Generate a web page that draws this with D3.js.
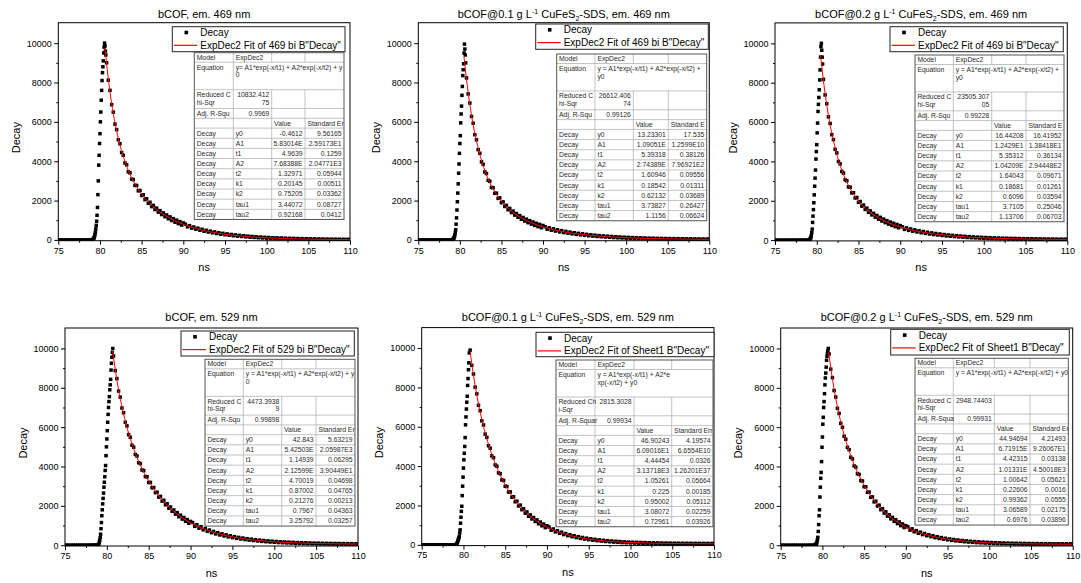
<!DOCTYPE html>
<html><head><meta charset="utf-8">
<script src="https://cdn.jsdelivr.net/npm/d3@7"></script>
<style>
body{margin:0;background:#fff}
svg{display:block}
text{font-family:"Liberation Sans",Arial,Helvetica,sans-serif}
</style>
</head><body>
<svg id="chart" width="1081" height="583"></svg>
<script>
// ---------------- DATA ----------------
const timesBase = [75,75.25,75.5,75.75,76,76.25,76.5,76.75,77,77.25,77.5,77.75,78,78.25,78.5,78.75];
const timesRise = [79,79.05,79.1,79.15,79.2,79.25,79.3,79.35,79.4,79.45,79.5,79.55,79.6,79.65,79.7,79.75,79.8,79.85,79.9,79.95,80,80.05,80.1,80.15,80.2,80.25,80.3,80.35,80.4,80.45,80.5,80.55,80.6,80.65,80.7];
const timesDecay = [80.8,81,81.2,81.4,81.6,81.8,82,82.2,82.4,82.6,82.8,83,83.2,83.4,83.6,83.8,84,84.2,84.4,84.6,84.8,85,85.2,85.4,85.6,85.8,86,86.2,86.4,86.6,86.8,87,87.2,87.4,87.6,87.8,88,88.2,88.4,88.6,88.8,89,89.2,89.4,89.6,89.8,90];
const timesTail = [90.25,90.5,90.75,91,91.25,91.5,91.75,92,92.25,92.5,92.75,93,93.25,93.5,93.75,94,94.25,94.5,94.75,95,95.25,95.5,95.75,96,96.25,96.5,96.75,97,97.25,97.5,97.75,98,98.25,98.5,98.75,99,99.25,99.5,99.75,100,100.25,100.5,100.75,101,101.25,101.5,101.75,102,102.25,102.5,102.75,103,103.25,103.5,103.75,104,104.25,104.5,104.75,105,105.25,105.5,105.75,106,106.25,106.5,106.75,107,107.25,107.5,107.75,108,108.25,108.5,108.75,109,109.25,109.5,109.75,110];
const times = timesBase.concat(timesRise, timesDecay, timesTail);

const decay469bCOF = [
0,2,1,0,3,1,0,2,1,0,2,3,1,2,4,3,
0,5,10,20,40,70,120,190,280,400,560,740,950,1250,1650,2300,3000,3800,4300,4900,5400,6000,6500,7100,7600,8100,8500,8800,9100,9500,9800,10000,9850,9600,9400,
9003,8120,7601,6875,6493,5885,5606,5089,4889,4442,4303,3909,3817,3464,3409,3090,3064,2771,2769,2496,2513,2257,2288,2046,2091,1860,1914,1693,1757,1545,1616,1411,1489,1289,1372,1179,1267,1078,1172,987,1083,903,1003,826,930,755,862,
800,665,725,600,655,545,595,490,540,440,490,400,445,360,405,325,368,292,335,262,305,238,278,212,255,192,232,173,212,156,192,140,176,126,160,112,146,100,134,88,124,78,114,70,104,62,96,55,88,48,82,42,76,37,70,32,64,28,60,24,56,20,52,17,48,14,45,12,42,10,40,8,38,6,36,5,34,4,32,3];
const decay469Cu01 = [
1,0,2,3,0,1,2,0,3,1,2,0,1,3,2,4,
0,5,10,20,40,70,110,170,260,380,520,800,1120,1520,1940,2380,2850,3390,3860,4400,4900,5300,5950,6400,6800,7350,7800,8350,8650,8950,9500,9950,9700,9400,9000,
8231,7420,6957,6276,5928,5347,5090,4590,4404,3968,3840,3455,3372,3027,2980,2669,2652,2367,2374,2111,2136,1890,1932,1700,1755,1535,1600,1390,1464,1263,1344,1150,1237,1048,1142,958,1056,877,978,803,908,736,844,675,787,619,733,
670,542,614,493,562,450,515,409,472,372,433,339,397,309,365,281,335,256,308,233,283,212,260,194,240,176,221,160,204,146,189,133,174,120,161,110,150,100,139,90,130,83,120,74,113,68,105,62,98,55,92,51,86,46,82,42,76,38,72,34,69,31,65,28,62,25,60,23,56,21,54,19,52,17,50,15,48,14,47,13];
const decay469Cu02 = [
2,1,0,3,2,0,1,4,2,1,0,2,3,1,2,3,
0,5,15,30,55,90,150,240,380,560,900,1220,1550,1900,2300,2740,3150,3560,4120,4500,4850,5450,5950,6540,6900,7250,7640,8140,8650,9300,9830,10000,9650,9300,8950,
8170,7380,6934,6266,5929,5358,5108,4614,4432,3999,3873,3489,3407,3063,3017,2706,2687,2401,2407,2142,2167,1920,1961,1727,1781,1560,1623,1412,1485,1282,1363,1167,1254,1064,1157,971,1069,889,990,814,918,745,854,684,795,627,740,
677,546,620,497,567,453,520,413,476,376,437,342,401,312,368,284,337,259,311,236,285,214,263,196,242,178,224,162,207,148,191,134,177,122,163,112,152,102,141,93,132,85,123,77,115,70,107,64,101,58,95,53,89,48,84,44,80,40,75,37,71,33,68,30,65,27,62,25,60,23,56,21,54,19,52,17,51,16,49,14];
const decay529bCOF = [
3,5,2,4,6,3,5,8,4,6,9,7,10,12,15,20,
30,80,160,260,380,560,840,1150,1500,1800,2100,2380,2650,2950,3200,3480,3800,4050,4550,5000,5400,5820,6250,6650,7000,7300,7550,7900,8150,8430,8900,9250,9550,9800,10000,
9617,8874,8469,7835,7525,6973,6735,6246,6063,5623,5485,5085,4981,4613,4538,4196,4144,3824,3792,3490,3476,3189,3190,2918,2931,2671,2696,2446,2481,2241,2285,2054,2106,1883,1942,1725,1791,1582,1654,1450,1528,1328,1411,1217,1305,1115,1208,
1150,960,1040,867,941,782,853,706,772,637,701,575,636,520,578,470,525,425,478,385,436,349,398,316,365,287,333,261,306,237,281,215,259,196,239,179,221,164,204,149,189,137,177,126,165,116,155,107,145,98,136,91,128,85,122,79,116,73,110,69,105,64,100,60,96,57,93,53,90,51,86,49,83,46,81,44,79,42,77,40];
const decay529Cu01 = [
0,2,1,3,0,2,1,0,3,2,1,4,2,0,3,1,
0,5,10,25,50,90,150,220,290,350,430,600,760,1100,1400,1700,1960,2500,2980,3440,3900,4320,4650,5000,5450,6100,6500,6900,7250,7550,8100,8450,8900,9250,9750,
9897,9120,8681,8014,7672,7089,6820,6301,6091,5625,5461,5036,4909,4519,4425,4063,3995,3659,3613,3297,3271,2974,2965,2683,2689,2422,2441,2187,2218,1975,2017,1783,1832,1609,1669,1453,1521,1313,1388,1186,1267,1071,1158,967,1058,873,969,
905,745,806,660,718,585,642,521,574,463,514,412,461,367,414,327,373,292,337,262,305,234,276,210,252,189,230,170,210,154,194,139,178,127,165,115,153,105,142,96,134,89,125,81,118,75,112,70,106,65,101,61,97,57,93,54,90,51,86,49,84,47,82,45,80,43,78,41,76,40,75,39,74,37,73,36,72,35,71,34];
const decay529Cu02 = [
1,3,0,2,1,0,4,2,1,3,0,2,1,3,2,5,
0,5,15,25,40,60,90,170,280,400,700,1050,1500,1800,2450,2950,3400,3700,4250,4980,5500,6150,6500,7000,7300,7700,8150,8500,8750,9050,9400,9600,9750,9880,10000,
9722,8949,8518,7861,7530,6958,6700,6194,5994,5539,5385,4970,4853,4471,4385,4030,3968,3638,3598,3287,3265,2973,2967,2689,2698,2434,2455,2203,2236,1994,2037,1806,1858,1635,1696,1480,1547,1339,1414,1212,1293,1097,1184,993,1084,898,994,
931,767,831,682,743,607,665,541,596,482,534,430,480,383,432,342,390,306,352,275,318,246,289,221,263,199,240,179,220,162,202,146,186,133,171,121,159,110,148,101,138,92,129,85,122,78,115,72,108,68,103,63,99,59,95,55,91,52,87,50,84,47,82,45,80,43,78,41,76,39,74,38,73,36,72,35,71,34,70,33];

// fitted ExpDec2 curves
const fitTimesTail = [81,81.25,81.5,82,82.5,83,83.5,84,85,86,87,88,90,92,94,96,98,100,103,106,110];
const fitT469bCOF = [80.6,80.75].concat(fitTimesTail);
const fitV469bCOF = [9770,9135,8190,7380,6677,5536,4663,3979,3435,2994,2327,1844,1481,1197,792,527,352,235,157,105,57,31,14];
const fitT469Cu01 = [80.5,80.75].concat(fitTimesTail);
const fitV469Cu01 = [9310,8340,7490,6747,6096,5020,4183,3525,3003,2582,1960,1530,1220,986,663,451,315,222,157,112,70,46,29];
const fitT469Cu02 = [80.45,80.75].concat(fitTimesTail);
const fitV469Cu02 = [9416,8273,7450,6727,6092,5038,4211,3559,3038,2617,1990,1553,1237,999,670,455,318,224,159,115,72,48,31];
const fitT529bCOF = [80.7,80.75].concat(fitTimesTail);
const fitV529bCOF = [9873,9708,8944,8270,7673,6665,5840,5155,4572,4074,3259,2626,2124,1721,1138,759,510,348,242,173,112,79,58];
const fitT529Cu01 = [80.8].concat(fitTimesTail);
const fitV529Cu01 = [9827,9190,8476,7837,6750,5854,5106,4469,3925,3044,2371,1853,1451,899,564,360,237,162,117,80,63,52];
const fitT529Cu02 = [80.75].concat(fitTimesTail);
const fitV529Cu02 = [9821,9019,8315,7690,6630,5765,5040,4427,3898,3043,2385,1876,1477,924,585,376,248,170,122,82,63,51];

// axis ticks
const xMajorTicks = [75,80,85,90,95,100,105,110];
const xMinorTicks = [77.5,82.5,87.5,92.5,97.5,102.5,107.5];
const yMajorTicks = [0,2000,4000,6000,8000,10000];
const yMinorTicks = [1000,3000,5000,7000,9000];

// titles: [text, shift] shift 1 = superscript, -1 = subscript
const title469bCOF = [["bCOF, em. 469 nm",0]];
const title469Cu01 = [["bCOF@0.1 g L",0],["-1",1],[" CuFeS",0],["2",-1],["-SDS, em. 469 nm",0]];
const title469Cu02 = [["bCOF@0.2 g L",0],["-1",1],[" CuFeS",0],["2",-1],["-SDS, em. 469 nm",0]];
const title529bCOF = [["bCOF, em. 529 nm",0]];
const title529Cu01 = [["bCOF@0.1 g L",0],["-1",1],[" CuFeS",0],["2",-1],["-SDS, em. 529 nm",0]];
const title529Cu02 = [["bCOF@0.2 g L",0],["-1",1],[" CuFeS",0],["2",-1],["-SDS, em. 529 nm",0]];

const legendFitLabels = ['ExpDec2 Fit of 469 bi B"Decay"','ExpDec2 Fit of 469 bi B"Decay"','ExpDec2 Fit of 469 bi B"Decay"','ExpDec2 Fit of 529 bi B"Decay"','ExpDec2 Fit of Sheet1 B"Decay"','ExpDec2 Fit of Sheet1 B"Decay"'];

// fit report tables
const paramNames = ["y0","A1","t1","A2","t2","k1","k2","tau1","tau2"];
const eqLines = [
 ["y= A1*exp(-x/t1) + A2*exp(-x/t2) + y","0"],
 ["y = A1*exp(-x/t1) + A2*exp(-x/t2) +","y0"],
 ["y = A1*exp(-x/t1) + A2*exp(-x/t2) +","y0"],
 ["y = A1*exp(-x/t1) + A2*exp(-x/t2) + y","0"],
 ["y = A1*exp(-x/t1) + A2*e","xp(-x/t2) + y0"],
 ["y = A1*exp(-x/t1) + A2*exp(-x/t2) + y0",""]];
const chiLabels = [["Reduced C","hi-Sqr"],["Reduced C","hi-Sqr"],["Reduced C","hi-Sqr"],["Reduced C","hi-Sqr"],["Reduced Ch","i-Sqr"],["Reduced C","hi-Sqr"]];
const chiValues = [["10832.412","75"],["26612.406","74"],["23505.307","05"],["4473.3938","9"],["2815.3028",""],["2948.74403",""]];
const adjLabels = ["Adj. R-Squ","Adj. R-Squ","Adj. R-Squ","Adj. R-Squ","Adj. R-Squar","Adj. R-Squa"];
const adjValues = ["0.9969","0.99126","0.99228","0.99898","0.99934","0.99931"];
const errHeaders = ["Standard Er","Standard E","Standard E","Standard Er","Standard Err","Standard Er"];
const values469bCOF = ["-0.4612","5.83014E","4.9639","7.68388E","1.32971","0.20145","0.75205","3.44072","0.92168"];
const errors469bCOF = ["9.56165","2.59173E1","0.1259","2.04771E3","0.05944","0.00511","0.03362","0.08727","0.0412"];
const values469Cu01 = ["13.23301","1.09051E","5.39318","2.74389E","1.60946","0.18542","0.62132","3.73827","1.1156"];
const errors469Cu01 = ["17.535","1.2599E10","0.38126","7.96921E2","0.09556","0.01311","0.03689","0.26427","0.06624"];
const values469Cu02 = ["16.44208","1.2429E1","5.35312","1.04209E","1.64043","0.18681","0.6096","3.7105","1.13706"];
const errors469Cu02 = ["16.41952","1.38418E1","0.36134","2.94448E2","0.09671","0.01261","0.03594","0.25046","0.06703"];
const values529bCOF = ["42.843","5.42503E","1.14939","2.12599E","4.70019","0.87002","0.21276","0.7967","3.25792"];
const errors529bCOF = ["5.63219","2.05987E3","0.06295","3.90449E1","0.04698","0.04765","0.00213","0.04363","0.03257"];
const values529Cu01 = ["46.90243","6.09016E1","4.44454","3.13718E3","1.05261","0.225","0.95002","3.08072","0.72961"];
const errors529Cu01 = ["4.19574","6.6554E10","0.0326","1.26201E37","0.05664","0.00185","0.05112","0.02259","0.03926"];
const values529Cu02 = ["44.94694","6.71915E","4.42315","1.01331E","1.00642","0.22606","0.99362","3.06589","0.6976"];
const errors529Cu02 = ["4.21493","9.26067E1","0.03138","4.50018E3","0.05621","0.0016","0.0555","0.02175","0.03896"];

// ---------------- LAYOUT ----------------
const layouts = [
 {x0:58.3, x1:350,   y0:22.7,  y1:240.7, leg:[172.3,26.7,172.7,25],  tab:[194.3,52.7], cols:[39,38.4,33.3,39]},
 {x0:418.3,x1:709.3, y0:22.7,  y1:240.7, leg:[535.7,24,172.6,25.3],  tab:[556.7,54],   cols:[38.3,38.3,35,38.4]},
 {x0:775,  x1:1067.3,y0:22.9,  y1:240.9, leg:[890,26.7,173.3,25],    tab:[915,55],     cols:[38.3,38.4,34.3,38]},
 {x0:65,   x1:358,   y0:328,   y1:546,   leg:[181,331,173.3,25],     tab:[205,359.3],  cols:[38.3,38.4,34.3,39]},
 {x0:421.7,x1:714,   y0:327.6, y1:545.6, leg:[536,332.3,178,24.4],   tab:[556,360],    cols:[39,39,37.7,41.3]},
 {x0:780.7,x1:1072.7,y0:328,   y1:546,   leg:[890.7,329.3,178.6,25.7],tab:[915,358.3], cols:[38.3,41,35.7,38.3]}
];
const headRowH = [9.5,27.5,18.8,9.8,9.8];
const dataRowH = 10.15;

const panels = [
 {title:title469bCOF, decay:decay469bCOF, fitT:fitT469bCOF, fitV:fitV469bCOF, vals:values469bCOF, errs:errors469bCOF},
 {title:title469Cu01, decay:decay469Cu01, fitT:fitT469Cu01, fitV:fitV469Cu01, vals:values469Cu01, errs:errors469Cu01},
 {title:title469Cu02, decay:decay469Cu02, fitT:fitT469Cu02, fitV:fitV469Cu02, vals:values469Cu02, errs:errors469Cu02},
 {title:title529bCOF, decay:decay529bCOF, fitT:fitT529bCOF, fitV:fitV529bCOF, vals:values529bCOF, errs:errors529bCOF},
 {title:title529Cu01, decay:decay529Cu01, fitT:fitT529Cu01, fitV:fitV529Cu01, vals:values529Cu01, errs:errors529Cu01},
 {title:title529Cu02, decay:decay529Cu02, fitT:fitT529Cu02, fitV:fitV529Cu02, vals:values529Cu02, errs:errors529Cu02}
];

const svg = d3.select("#chart");
const defs = svg.append("defs");
const TXT = "#000";

function styleAxis(sel, size){
  sel.attr("font-family",'"Liberation Sans",Arial,sans-serif').attr("font-size",size);
  sel.selectAll("text").attr("fill",TXT);
  sel.selectAll("line").attr("stroke","#000");
  sel.select(".domain").remove();
}

function drawTable(g, i, L, p){
  const cols = L.cols;
  const cx = [0]; cols.forEach(c => cx.push(cx[cx.length-1] + c));
  const W = cx[cx.length-1];
  const rh = headRowH.concat(paramNames.map(() => dataRowH));
  const ry = [0]; rh.forEach(h => ry.push(ry[ry.length-1] + h));
  const H = ry[ry.length-1];
  defs.append("clipPath").attr("id","tclip"+i).append("rect").attr("width",W).attr("height",H);
  const t = g.append("g").attr("transform",`translate(${L.tab[0]},${L.tab[1]})`);
  t.append("rect").attr("width",W).attr("height",H).attr("fill","#fff");
  const lines = t.append("g").attr("stroke","#b4b4b4").attr("stroke-width",0.8);
  ry.slice(1,-1).forEach(yy => lines.append("line").attr("x1",0).attr("x2",W).attr("y1",yy).attr("y2",yy));
  lines.append("line").attr("x1",cx[1]).attr("x2",cx[1]).attr("y1",0).attr("y2",H);
  [cx[2],cx[3]].forEach(xx => {
    lines.append("line").attr("x1",xx).attr("x2",xx).attr("y1",0).attr("y2",ry[1]);
    lines.append("line").attr("x1",xx).attr("x2",xx).attr("y1",ry[2]).attr("y2",H);
  });
  t.append("rect").attr("width",W).attr("height",H).attr("fill","none").attr("stroke","#555").attr("stroke-width",1);
  const tx = t.append("g").attr("clip-path",`url(#tclip${i})`).attr("font-size",6.8).attr("fill","#2a2a2a");
  const pad = 2.4;
  const put = (s, c, yy, right) => {
    tx.append("text").attr("x", right ? cx[c+1]-pad : cx[c]+pad).attr("y", yy)
      .attr("text-anchor", right ? "end" : "start").text(s);
  };
  const mid = r => ry[r] + rh[r]/2 + 2.4;
  put("Model",0,mid(0)); put("ExpDec2",1,mid(0));
  put("Equation",0,ry[1]+7.6);
  put(eqLines[i][0],1,ry[1]+7.6); put(eqLines[i][1],1,ry[1]+15.3);
  put(chiLabels[i][0],0,ry[2]+7.4); put(chiLabels[i][1],0,ry[2]+15);
  put(chiValues[i][0],1,ry[2]+7.4,true); put(chiValues[i][1],1,ry[2]+15,true);
  put(adjLabels[i],0,mid(3)); put(adjValues[i],1,mid(3),true);
  put("Value",2,mid(4)); put(errHeaders[i],3,mid(4));
  paramNames.forEach((nm,k) => {
    const r = 5 + k;
    put("Decay",0,mid(r)); put(nm,1,mid(r));
    put(p.vals[k],2,mid(r),true); put(p.errs[k],3,mid(r),true);
  });
}

panels.forEach((p, i) => {
  const L = layouts[i];
  const x = d3.scaleLinear().domain([75,110]).range([L.x0, L.x1]);
  const y = d3.scaleLinear().domain([-40,11040]).range([L.y1, L.y0]);
  const g = svg.append("g");
  defs.append("clipPath").attr("id","pclip"+i).append("rect")
    .attr("x",L.x0).attr("y",L.y0).attr("width",L.x1-L.x0).attr("height",L.y1-L.y0);

  // data points
  const pts = times.map((t,k) => ({t:t, v:p.decay[k]}));
  const s = 3.5;
  g.append("g").attr("clip-path",`url(#pclip${i})`).selectAll("rect").data(pts).join("rect")
    .attr("x", d => x(d.t)-s/2).attr("y", d => y(d.v)-s/2)
    .attr("width", s).attr("height", s).attr("fill","#000");

  // fit line
  const fit = p.fitT.map((t,k) => ({t:t, v:p.fitV[k]}));
  const line = d3.line().x(d => x(d.t)).y(d => y(d.v)).curve(d3.curveMonotoneX);
  g.append("path").datum(fit).attr("clip-path",`url(#pclip${i})`)
    .attr("d", line).attr("fill","none").attr("stroke","#ff0000").attr("stroke-width",1);

  // axes
  const xa = g.append("g").attr("transform",`translate(0,${L.y1})`)
    .call(d3.axisBottom(x).tickValues(xMajorTicks).tickSize(4).tickSizeOuter(0).tickPadding(2.5).tickFormat(d3.format("d")));
  styleAxis(xa, 9);
  const xm = g.append("g").attr("transform",`translate(0,${L.y1})`)
    .call(d3.axisBottom(x).tickValues(xMinorTicks).tickSize(2).tickSizeOuter(0).tickFormat(""));
  styleAxis(xm, 9);
  const ya = g.append("g").attr("transform",`translate(${L.x0},0)`)
    .call(d3.axisLeft(y).tickValues(yMajorTicks).tickSize(4).tickSizeOuter(0).tickPadding(2.5).tickFormat(d3.format("d")));
  styleAxis(ya, 9);
  const ym = g.append("g").attr("transform",`translate(${L.x0},0)`)
    .call(d3.axisLeft(y).tickValues(yMinorTicks).tickSize(2).tickSizeOuter(0).tickFormat(""));
  styleAxis(ym, 9);

  // frame
  g.append("rect").attr("x",L.x0).attr("y",L.y0).attr("width",L.x1-L.x0).attr("height",L.y1-L.y0)
    .attr("fill","none").attr("stroke","#000").attr("stroke-width",1);

  // axis titles
  g.append("text").attr("x",(L.x0+L.x1)/2).attr("y",L.y1+30.5).attr("text-anchor","middle")
    .attr("font-size",11).attr("fill",TXT).text("ns");
  g.append("text").attr("transform",`translate(${L.x0-38.5},${(L.y0+L.y1)/2+6}) rotate(-90)`)
    .attr("text-anchor","middle").attr("font-size",11).attr("fill",TXT).text("Decay");

  // title
  const tt = g.append("text").attr("x",(L.x0+L.x1)/2).attr("y", i < 3 ? 17.5 : 321)
    .attr("text-anchor","middle").attr("font-size",11).attr("fill",TXT);
  let shift = 0;
  p.title.forEach(([str, sh]) => {
    const dy = (sh === 1 ? -4 : sh === -1 ? 3 : 0) - shift;
    tt.append("tspan").attr("dy", dy).attr("font-size", sh ? 7 : 11).text(str);
    shift = sh === 1 ? -4 : sh === -1 ? 3 : 0;
  });

  // legend
  const [bx, by, bw, bh] = L.leg;
  const lg = g.append("g");
  lg.append("rect").attr("x",bx).attr("y",by).attr("width",bw).attr("height",bh)
    .attr("fill","#fff").attr("stroke","#222").attr("stroke-width",1);
  lg.append("rect").attr("x",bx+14-1.8).attr("y",by+5.8-1.8).attr("width",3.6).attr("height",3.6).attr("fill","#000");
  lg.append("line").attr("x1",bx+1.5).attr("x2",bx+25).attr("y1",by+18.6).attr("y2",by+18.6)
    .attr("stroke","#ff0000").attr("stroke-width",1.2);
  lg.append("text").attr("x",bx+28).attr("y",by+9.4).attr("font-size",10).attr("fill",TXT).text("Decay");
  lg.append("text").attr("x",bx+28).attr("y",by+22.1).attr("font-size",10).attr("fill",TXT).text(legendFitLabels[i]);

  drawTable(g, i, L, p);
});
</script>
</body></html>
